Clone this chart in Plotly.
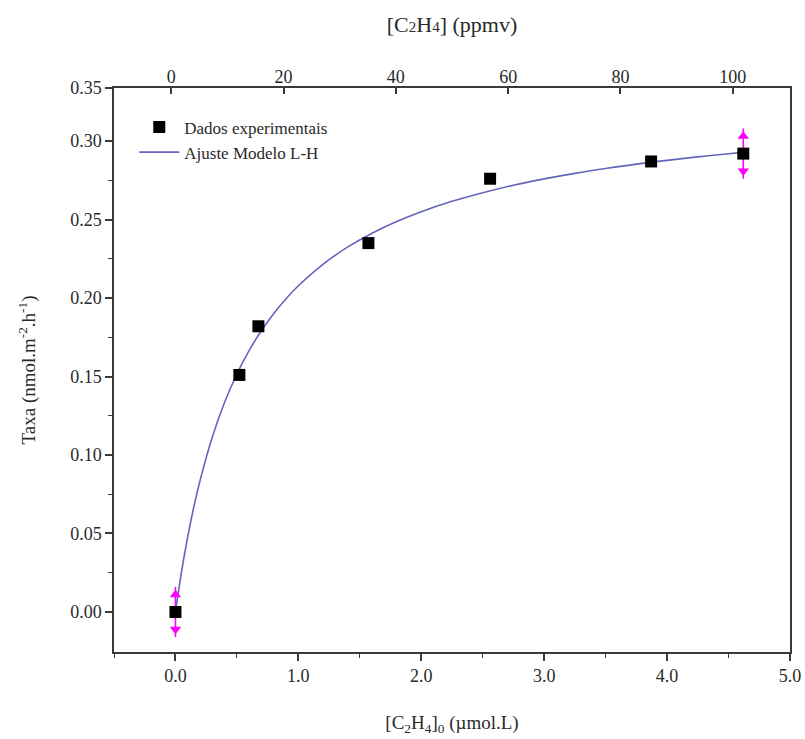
import plotly.graph_objects as go

# Experimental data
conc_umol = [0.0, 0.52, 0.675, 1.57, 2.56, 3.87, 4.62]
taxa = [0.0, 0.151, 0.182, 0.235, 0.276, 0.287, 0.292]

# L-H fit curve
fit_x = [0.0, 0.05, 0.1, 0.15, 0.2, 0.3, 0.4, 0.5, 0.6, 0.7, 0.8, 0.9, 1.0, 1.2, 1.4,
         1.6, 1.8, 2.0, 2.25, 2.5, 2.75, 3.0, 3.25, 3.5, 3.75, 4.0, 4.25, 4.5, 4.62]
fit_y = [0.0, 0.0259, 0.0480, 0.0671, 0.0837, 0.1115, 0.1336, 0.1516, 0.1666, 0.1793,
         0.1902, 0.1996, 0.2078, 0.2215, 0.2324, 0.2413, 0.2487, 0.2550, 0.2616, 0.2671,
         0.2719, 0.2759, 0.2794, 0.2825, 0.2853, 0.2877, 0.2899, 0.2919, 0.2928]

# Magenta double arrows (end points)
arrow_x = [0.0, 4.62]
arrow_y = [0.0, 0.292]
arrow_half = [0.016, 0.016]

# Axis ticks
x_ticks = [0, 1, 2, 3, 4, 5]
x_ticktext = ["0.0", "1.0", "2.0", "3.0", "4.0", "5.0"]
y_ticks = [0.0, 0.05, 0.10, 0.15, 0.20, 0.25, 0.30, 0.3338]
y_ticktext = ["0.00", "0.05", "0.10", "0.15", "0.20", "0.25", "0.30", "0.35"]
top_ticks = [0, 20, 40, 60, 80, 100]

FONT = "Liberation Serif"
AXC = "#3a3a3a"
TXT = "#2a2a2a"

fig = go.Figure()

fig.add_trace(go.Scatter(
    x=fit_x, y=fit_y, mode="lines", name="Ajuste Modelo L-H",
    line=dict(color="#6464bd", width=1.6, shape="spline"),
))

fig.add_trace(go.Scatter(
    x=arrow_x, y=arrow_y, mode="markers", showlegend=False,
    marker=dict(size=1, color="rgba(0,0,0,0)"),
    error_y=dict(type="data", array=arrow_half, color="#ff00ff", thickness=1.6, width=0),
))
fig.add_trace(go.Scatter(
    x=arrow_x, y=[v + h - 0.005 for v, h in zip(arrow_y, arrow_half)], mode="markers",
    showlegend=False, marker=dict(symbol="triangle-up", size=10, color="#ff00ff"),
))
fig.add_trace(go.Scatter(
    x=arrow_x, y=[v - h + 0.005 for v, h in zip(arrow_y, arrow_half)], mode="markers",
    showlegend=False, marker=dict(symbol="triangle-down", size=10, color="#ff00ff"),
))

fig.add_trace(go.Scatter(
    x=conc_umol, y=taxa, mode="markers", name="Dados experimentais",
    marker=dict(symbol="square", size=12, color="black"),
))

# dummy trace for the top axis
fig.add_trace(go.Scatter(x=[0, 100], y=[None, None], xaxis="x2", showlegend=False,
                         hoverinfo="skip"))

fig.data[0].legendrank = 2
fig.data[4].legendrank = 1

fig.update_layout(
    width=805, height=739,
    margin=dict(l=114, r=15, t=88, b=87),
    paper_bgcolor="white", plot_bgcolor="white",
    font=dict(family=FONT, color=TXT, size=18),
    showlegend=True,
    legend=dict(x=0.03, y=0.962, xanchor="left", yanchor="top",
                bgcolor="rgba(0,0,0,0)", font=dict(size=17, family=FONT, color=TXT),
                tracegroupgap=0, itemwidth=40),
    xaxis=dict(
        range=[-0.5, 5.0], tickvals=x_ticks, ticktext=x_ticktext, automargin=False,
        showgrid=False, zeroline=False, showline=True, linecolor=AXC, linewidth=1.5,
        mirror=True, ticks="outside", ticklen=7, tickwidth=1.5, tickcolor=AXC,
        minor=dict(dtick=0.5, ticks="outside", ticklen=4, tickwidth=1.2, tickcolor=AXC),
        tickfont=dict(size=18, family=FONT, color=TXT),
        title=dict(text="[C<sub>2</sub>H<sub>4</sub>]<sub>0</sub> (µmol.L)",
                   font=dict(size=19, family=FONT, color=TXT), standoff=30),
    ),
    xaxis2=dict(
        overlaying="x", side="top", range=[-10.2, 110.2], tickvals=top_ticks,
        automargin=False,
        showgrid=False, zeroline=False, showline=False,
        ticks="inside", ticklen=6, tickwidth=1.5, tickcolor=AXC,
        tickfont=dict(size=18, family=FONT, color=TXT),
        title=dict(text="[C<span style='font-size:15px'>2</span>H<span style='font-size:15px'>4</span>] (ppmv)",
                   font=dict(size=22, family=FONT, color=TXT), standoff=28),
    ),
    yaxis=dict(
        range=[-0.0255, 0.3338], tickvals=y_ticks, ticktext=y_ticktext, automargin=False,
        showgrid=False, zeroline=False, showline=True, linecolor=AXC, linewidth=1.5,
        mirror=True, ticks="outside", ticklen=7, tickwidth=1.5, tickcolor=AXC,
        minor=dict(tickvals=[0.025, 0.075, 0.125, 0.175, 0.225, 0.275], ticks="outside",
                   ticklen=4, tickwidth=1.2, tickcolor=AXC),
        tickfont=dict(size=18, family=FONT, color=TXT),
        title=dict(text="Taxa (nmol.m<sup>-2</sup>.h<sup>-1</sup>)",
                   font=dict(size=19, family=FONT, color=TXT), standoff=30),
    ),
)

fig.write_html(
    "out.html",
    config={"displayModeBar": False},
    post_script="document.body.style.margin='0';document.body.style.overflow='hidden';",
)
